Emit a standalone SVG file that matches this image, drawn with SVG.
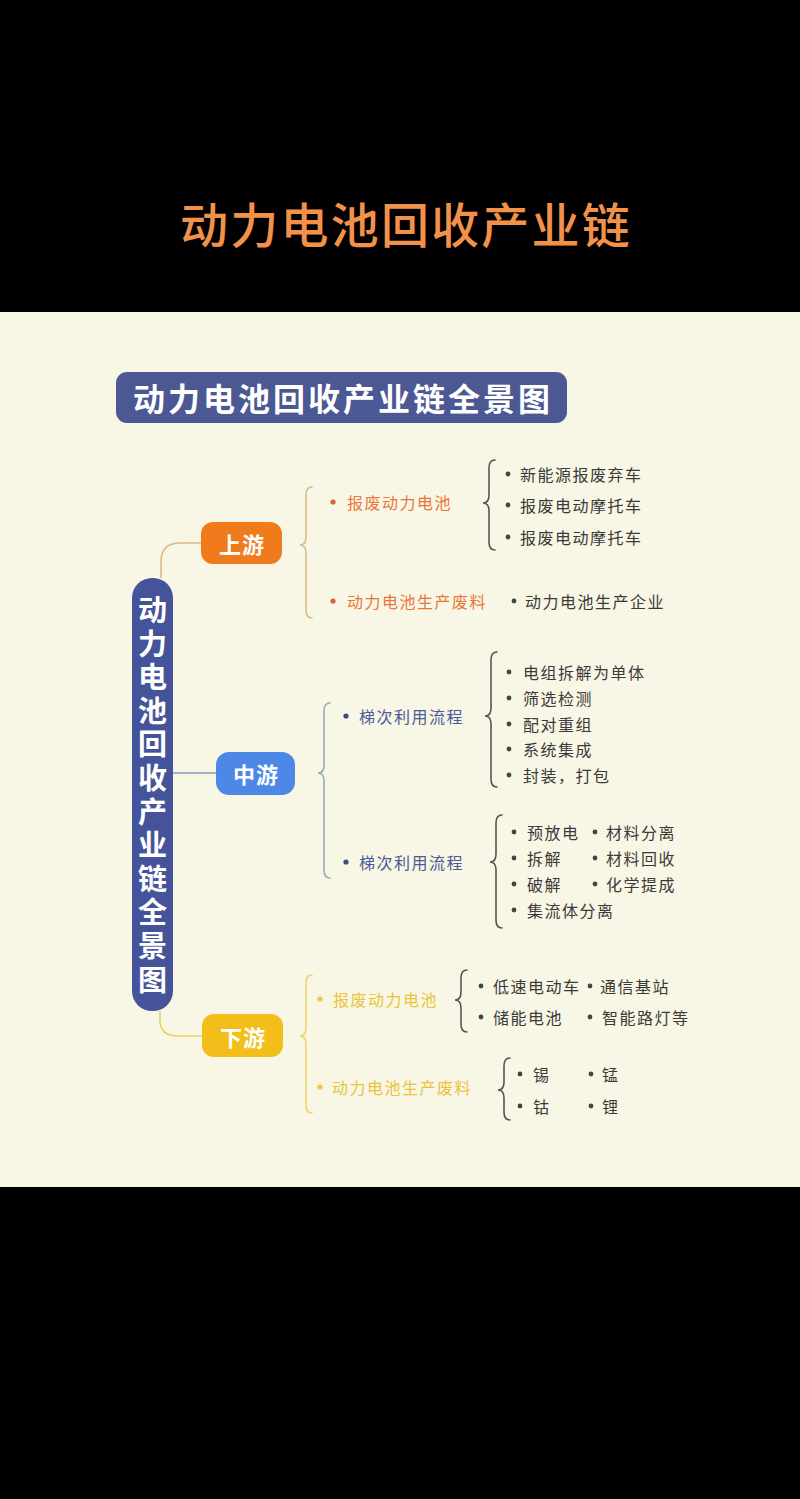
<svg xmlns="http://www.w3.org/2000/svg" width="800" height="1499" viewBox="0 0 800 1499">
<style>
text{font-family:"Noto Sans CJK SC","Noto Sans",sans-serif;dominant-baseline:central}
.t2{font-size:16px;letter-spacing:1.5px}
.it{font-size:16px;letter-spacing:1.5px;fill:#3a3a3a}
.l1{font-size:22px;font-weight:bold;fill:#fff;text-anchor:middle;letter-spacing:1px}
.vt{font-size:29px;font-weight:bold;fill:#fff;writing-mode:vertical-rl;letter-spacing:4.6px}
.br{fill:none;stroke-width:1.6;stroke-linecap:round}
.dk{stroke:#555}
</style>
<rect x="0" y="0" width="800" height="1499" fill="#000"/>
<rect x="0" y="312" width="800" height="875" fill="#f8f6e4"/>
<text x="406" y="222" font-size="48" font-weight="500" fill="#f2924a" text-anchor="middle" letter-spacing="2.2">动力电池回收产业链</text>

<g id="banner">
<rect x="116" y="372" width="451" height="51" rx="11" fill="#4b5894"/>
<text x="343" y="397" font-size="32" font-weight="bold" fill="#fff" text-anchor="middle" letter-spacing="3">动力电池回收产业链全景图</text>
</g>

<g id="connectors">
<path d="M161,578 L161,562 Q161,543 180,543 L201,543" fill="none" stroke="#d8bb86" stroke-width="1.6"/>
<line x1="173" y1="773" x2="216" y2="773" stroke="#8e99b8" stroke-width="1.6"/>
<path d="M160,1011 L160,1020 Q160,1036 178,1036 L202,1036" fill="none" stroke="#e8d060" stroke-width="1.6"/>
<path class="br" stroke="#d8bb8c" d="M312,487 Q306,487 306,495 L306,537 Q306,545 300,545 Q306,545 306,553 L306,610 Q306,618 312,618"/>
<path class="br dk" d="M495,460 Q489,460 489,468 L489,495 Q489,503 483,503 Q489,503 489,511 L489,542 Q489,550 495,550"/>
<path class="br" stroke="#9ba6c6" d="M330,703 Q324,703 324,711 L324,765 Q324,773 318,773 Q324,773 324,781 L324,870 Q324,878 330,878"/>
<path class="br dk" d="M497,652 Q491,652 491,660 L491,708 Q491,716 485,716 Q491,716 491,724 L491,779 Q491,787 497,787"/>
<path class="br dk" d="M502,815 Q496,815 496,823 L496,854 Q496,862 490,862 Q496,862 496,870 L496,920 Q496,928 502,928"/>
<path class="br" stroke="#ecd46a" d="M312,975 Q306,975 306,983 L306,1028 Q306,1036 300,1036 Q306,1036 306,1044 L306,1105 Q306,1113 312,1113"/>
<path class="br dk" d="M467,970 Q461,970 461,978 L461,992 Q461,1000 455,1000 Q461,1000 461,1008 L461,1024 Q461,1032 467,1032"/>
<path class="br dk" d="M510,1058 Q504,1058 504,1066 L504,1082 Q504,1090 498,1090 Q504,1090 504,1098 L504,1112 Q504,1120 510,1120"/>
</g>

<g id="root">
<rect x="132" y="578" width="41" height="433" rx="20" fill="#45549a"/>
<text class="vt" x="152.5" y="595.5">动力电池回收产业链全景图</text>
</g>

<g id="upstream">
<rect x="201" y="522" width="81" height="42" rx="12" fill="#f07b1c"/>
<text class="l1" x="242" y="543">上游</text>
</g>
<g id="midstream">
<rect x="216" y="752" width="79" height="43" rx="13" fill="#4e88e6"/>
<text class="l1" x="256" y="773">中游</text>
</g>
<g id="downstream">
<rect x="202" y="1014" width="81" height="43" rx="12" fill="#f4be1a"/>
<text class="l1" x="243" y="1036">下游</text>
</g>

<g id="up-items">
<circle cx="333" cy="502" r="2.6" fill="#d9623a"/>
<text class="t2" x="347" y="502" fill="#e8783a">报废动力电池</text>
<circle cx="508" cy="474" r="2.4" fill="#444"/>
<text class="it" x="520" y="474">新能源报废弃车</text>
<circle cx="508" cy="505" r="2.4" fill="#444"/>
<text class="it" x="520" y="505">报废电动摩托车</text>
<circle cx="508" cy="537" r="2.4" fill="#444"/>
<text class="it" x="520" y="537">报废电动摩托车</text>
<circle cx="333" cy="601" r="2.6" fill="#d9623a"/>
<text class="t2" x="347" y="601" fill="#e8783a">动力电池生产废料</text>
<circle cx="514" cy="601" r="2.4" fill="#444"/>
<text class="it" x="525" y="601">动力电池生产企业</text>
</g>

<g id="mid-items">
<circle cx="346" cy="716" r="2.6" fill="#3d4a80"/>
<text class="t2" x="359" y="716" fill="#4a5a98">梯次利用流程</text>
<circle cx="509" cy="672" r="2.4" fill="#444"/>
<text class="it" x="523" y="672">电组拆解为单体</text>
<circle cx="509" cy="698" r="2.4" fill="#444"/>
<text class="it" x="523" y="698">筛选检测</text>
<circle cx="509" cy="724" r="2.4" fill="#444"/>
<text class="it" x="523" y="724">配对重组</text>
<circle cx="509" cy="749" r="2.4" fill="#444"/>
<text class="it" x="523" y="749">系统集成</text>
<circle cx="509" cy="775" r="2.4" fill="#444"/>
<text class="it" x="523" y="775">封装，打包</text>
<circle cx="346" cy="862" r="2.6" fill="#3d4a80"/>
<text class="t2" x="359" y="862" fill="#4a5a98">梯次利用流程</text>
<circle cx="514" cy="832" r="2.4" fill="#444"/>
<text class="it" x="527" y="832">预放电</text>
<circle cx="595" cy="832" r="2.4" fill="#444"/>
<text class="it" x="606" y="832">材料分离</text>
<circle cx="514" cy="858" r="2.4" fill="#444"/>
<text class="it" x="527" y="858">拆解</text>
<circle cx="595" cy="858" r="2.4" fill="#444"/>
<text class="it" x="606" y="858">材料回收</text>
<circle cx="514" cy="884" r="2.4" fill="#444"/>
<text class="it" x="527" y="884">破解</text>
<circle cx="595" cy="884" r="2.4" fill="#444"/>
<text class="it" x="606" y="884">化学提成</text>
<circle cx="514" cy="910" r="2.4" fill="#444"/>
<text class="it" x="527" y="910">集流体分离</text>
</g>

<g id="down-items">
<circle cx="320" cy="999" r="2.6" fill="#f0c63a"/>
<text class="t2" x="333" y="999" fill="#eac43c">报废动力电池</text>
<circle cx="481" cy="986" r="2.4" fill="#444"/>
<text class="it" x="493" y="986">低速电动车</text>
<circle cx="590" cy="986" r="2.4" fill="#444"/>
<text class="it" x="600" y="986">通信基站</text>
<circle cx="481" cy="1017" r="2.4" fill="#444"/>
<text class="it" x="493" y="1017">储能电池</text>
<circle cx="590" cy="1017" r="2.4" fill="#444"/>
<text class="it" x="602" y="1017">智能路灯等</text>
<circle cx="320" cy="1087" r="2.6" fill="#f0c63a"/>
<text class="t2" x="332" y="1087" fill="#eac43c">动力电池生产废料</text>
<circle cx="520" cy="1074" r="2.4" fill="#444"/>
<text class="it" x="533" y="1074">锡</text>
<circle cx="591" cy="1074" r="2.4" fill="#444"/>
<text class="it" x="602" y="1074">锰</text>
<circle cx="520" cy="1106" r="2.4" fill="#444"/>
<text class="it" x="533" y="1106">钴</text>
<circle cx="591" cy="1106" r="2.4" fill="#444"/>
<text class="it" x="602" y="1106">锂</text>
</g>
</svg>
